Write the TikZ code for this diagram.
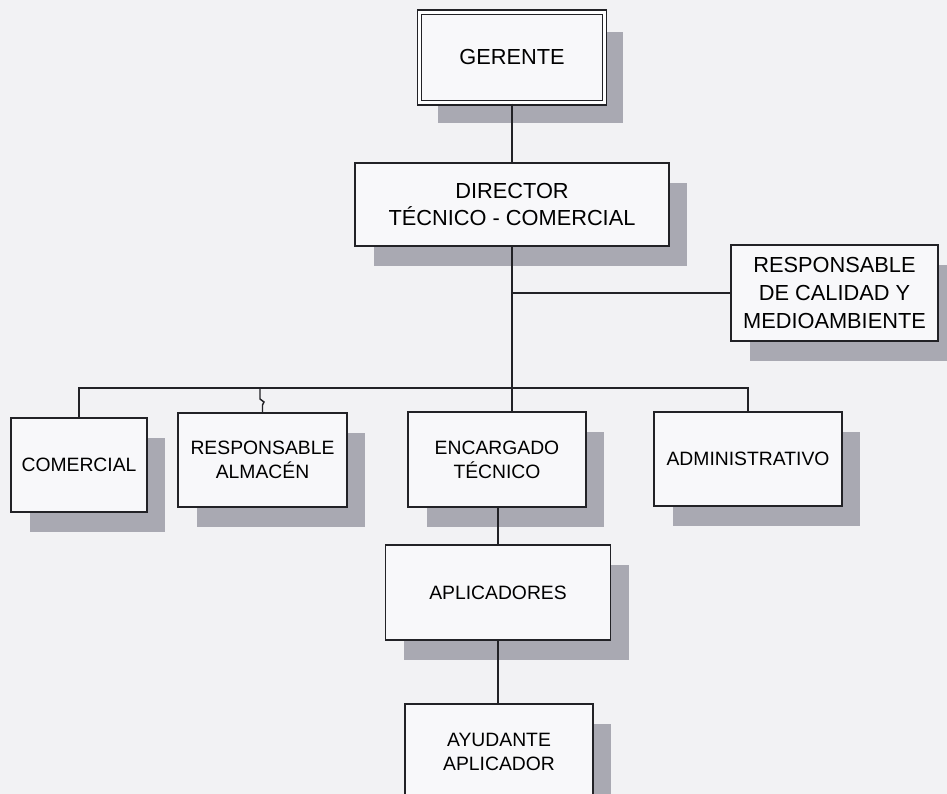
\documentclass[tikz,border=0pt]{standalone}
\usepackage{fontspec}
\setmainfont{Liberation Sans}
\usetikzlibrary{shadows}
\definecolor{paper}{HTML}{F2F2F4}
\definecolor{boxfill}{HTML}{F8F8FA}
\definecolor{shadowgray}{HTML}{A9A9B2}
\definecolor{linecol}{HTML}{222226}
\newcommand{\orgsmall}{\fontsize{11}{13.6}\selectfont}
\newcommand{\orgbig}{\fontsize{12.4}{15.8}\selectfont}
\tikzset{
  orgbox/.style={draw=linecol, fill=boxfill, line width=0.8pt, align=center, font=\orgsmall,
    inner sep=0pt, drop shadow={shadow xshift=0.37cm, shadow yshift=-0.4cm, fill=shadowgray, opacity=1}},
  bigbox/.style={orgbox, font=\orgbig},
  orgline/.style={draw=linecol, line width=0.8pt}
}
\begin{document}
\begin{tikzpicture}[x=0.02cm, y=-0.02cm]
  \fill[paper] (0,0) rectangle (947,794);
  \useasboundingbox (0,0) rectangle (947,794);
  % top of the chart
  \node[bigbox, double, double distance=0.06cm, minimum width=3.70cm, minimum height=1.82cm] (ger) at (512,57.5) {GERENTE};
  \node[bigbox, minimum width=6.28cm, minimum height=1.66cm] (dir) at (512,204.5) {DIRECTOR\\TÉCNICO - COMERCIAL};
  \node[bigbox, minimum width=4.14cm, minimum height=1.92cm] (cal) at (834.5,293) {RESPONSABLE\\DE CALIDAD Y\\MEDIOAMBIENTE};
  % second row
  \node[orgbox, minimum width=2.72cm, minimum height=1.88cm] (com) at (79,465) {COMERCIAL};
  \node[orgbox, minimum width=3.38cm, minimum height=1.88cm] (alm) at (262.5,460) {RESPONSABLE\\ALMACÉN};
  \node[orgbox, minimum width=3.56cm, minimum height=1.90cm] (enc) at (497,459.5) {ENCARGADO\\TÉCNICO};
  \node[orgbox, minimum width=3.76cm, minimum height=1.88cm] (adm) at (748,459) {ADMINISTRATIVO};
  % lower part
  \node[orgbox, minimum width=4.50cm, minimum height=1.90cm] (apl) at (498,592.5) {APLICADORES};
  \node[orgbox, minimum width=3.76cm, minimum height=1.90cm] (ayu) at (499,751.5) {AYUDANTE\\APLICADOR};
  \coordinate (bus) at (0,388);
  \draw[orgline] (ger.south) -- (dir.north);
  \draw[orgline] (dir.south) -- (dir.south |- enc.north);
  \draw[orgline] (dir.south |- cal.west) -- (cal.west);
  \draw[orgline] (com.north) -- (com.north |- bus) -- (adm.north |- bus) -- (adm.north);
  \draw[orgline] ([xshift=-0.05cm]alm.north |- bus) -- ++(0,11) -- ++(4,3) -- ++(-1.5,3) -- (alm.north);
  \draw[orgline] (apl.north |- enc.south) -- (apl.north);
  \draw[orgline] (apl.south) -- (apl.south |- ayu.north);
\end{tikzpicture}
\end{document}
